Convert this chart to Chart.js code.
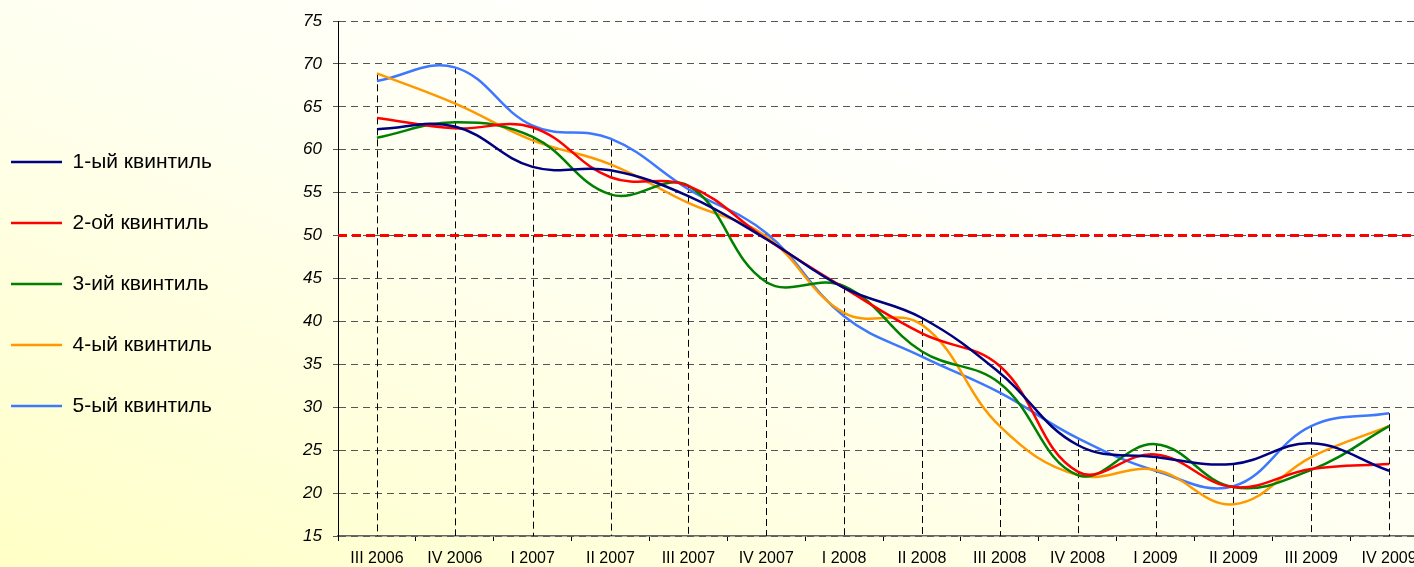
<!DOCTYPE html>
<html>
<head>
<meta charset="utf-8">
<script src="https://cdn.jsdelivr.net/npm/chart.js@4.4.1/dist/chart.umd.min.js"></script>
<style>
    html, body {
        margin: 0;
        padding: 0;
        width: 1414px;
        height: 567px;
        overflow: hidden;
        background: linear-gradient(to top right, #FFFFC6 0%, #FFFFEE 45%, #FFFFFF 75%);
    }
    #chart {
        display: block;
    }
</style>
</head>
<body>
<canvas id="chart" width="1440" height="567"></canvas>
<script>
"use strict";

const quarters = ['III 2006', 'IV 2006', 'I 2007', 'II 2007', 'III 2007', 'IV 2007', 'I 2008',
    'II 2008', 'III 2008', 'IV 2008', 'I 2009', 'II 2009', 'III 2009', 'IV 2009'];

const quintile1 = [62.4, 62.7, 58.0, 57.6, 54.6, 49.6, 43.9, 40.4, 34.0, 25.6, 24.2, 23.4, 25.8, 22.6];
const quintile2 = [63.7, 62.5, 62.6, 56.8, 55.8, 49.6, 43.9, 38.6, 34.8, 22.5, 24.5, 20.7, 22.8, 23.4];
const quintile3 = [61.4, 63.2, 61.5, 54.8, 55.8, 44.6, 44.1, 36.5, 32.8, 22.1, 25.7, 20.7, 22.7, 27.8];
const quintile4 = [68.9, 65.4, 61.1, 58.3, 53.8, 49.9, 41.0, 39.6, 27.8, 22.1, 22.7, 18.7, 24.2, 27.8];
const quintile5 = [68.0, 69.6, 62.8, 61.3, 55.4, 50.3, 40.6, 35.9, 31.7, 26.4, 22.6, 20.8, 27.8, 29.3];

const seriesNames = ['1-ый квинтиль', '2-ой квинтиль', '3-ий квинтиль', '4-ый квинтиль', '5-ый квинтиль'];
const seriesColors = ['#000080', '#FF0000', '#008000', '#FF9900', '#3D78FF'];

const yMin = 15;
const yMax = 75;
const yStep = 5;
const threshold = 50;

// dashed drop lines from the highest point of each quarter down to the axis
const dropLines = {
    id: 'dropLines',
    beforeDatasetsDraw(chart) {
        const {ctx, scales: {x, y}} = chart;
        ctx.save();
        ctx.strokeStyle = '#000000';
        ctx.lineWidth = 1;
        ctx.setLineDash([7, 4]);
        quarters.forEach((q, i) => {
            const top = Math.max(...chart.data.datasets.map(d => d.data[i]));
            const px = Math.round(x.getPixelForValue(i)) + 0.5;
            ctx.beginPath();
            ctx.moveTo(px, y.getPixelForValue(top));
            ctx.lineTo(px, y.bottom);
            ctx.stroke();
        });
        ctx.restore();
    }
};

// red dashed line at 50
const thresholdLine = {
    id: 'thresholdLine',
    beforeDatasetsDraw(chart) {
        const {ctx, scales: {x, y}} = chart;
        const py = y.getPixelForValue(threshold);
        ctx.save();
        ctx.strokeStyle = '#FF0000';
        ctx.lineWidth = 3;
        ctx.setLineDash([9, 5]);
        ctx.beginPath();
        ctx.moveTo(x.left, py);
        ctx.lineTo(x.right, py);
        ctx.stroke();
        ctx.restore();
    }
};

const allSeries = [quintile1, quintile2, quintile3, quintile4, quintile5];

new Chart(document.getElementById('chart'), {
    type: 'line',
    data: {
        labels: quarters,
        datasets: allSeries.map((values, i) => ({
            label: seriesNames[i],
            data: values,
            borderColor: seriesColors[i],
            backgroundColor: seriesColors[i],
            borderWidth: 2.5,
            pointRadius: 0,
            tension: 0.4,
            fill: false
        }))
    },
    options: {
        responsive: false,
        animation: false,
        layout: {
            // legend sits close to the left edge, plot top is pushed down by the y axis
            padding: { left: -29, top: 1, right: 12, bottom: 0 }
        },
        plugins: {
            tooltip: { enabled: false },
            legend: {
                position: 'left',
                labels: {
                    color: '#000000',
                    boxWidth: 51,
                    boxHeight: 0,
                    padding: 40,
                    font: { family: 'Arial, "Liberation Sans", sans-serif', size: 21 }
                }
            }
        },
        scales: {
            x: {
                offset: true,
                grid: {
                    offset: true,
                    drawOnChartArea: false,
                    drawTicks: true,
                    tickLength: 5,
                    tickColor: '#000000'
                },
                border: { color: '#666666', width: 1.5 },
                ticks: {
                    color: '#000000',
                    padding: 8,
                    maxRotation: 0,
                    autoSkip: false,
                    font: { family: 'Arial, "Liberation Sans", sans-serif', size: 16 }
                },
                afterFit(scale) {
                    scale.height = 31;
                }
            },
            y: {
                min: yMin,
                max: yMax,
                grid: {
                    color: '#555555',
                    lineWidth: 1,
                    tickLength: 5,
                    tickColor: '#555555'
                },
                border: { color: '#000000', width: 1, dash: [7, 5] },
                ticks: {
                    stepSize: yStep,
                    color: '#000000',
                    padding: 11,
                    font: { family: 'Arial, "Liberation Sans", sans-serif', size: 17, style: 'italic' }
                },
                afterFit(scale) {
                    scale.width = 338 + 29 - scale.chart.legend.width;
                    scale.paddingTop = 21;
                }
            }
        }
    },
    plugins: [dropLines, thresholdLine]
});
</script>
</body>
</html>
